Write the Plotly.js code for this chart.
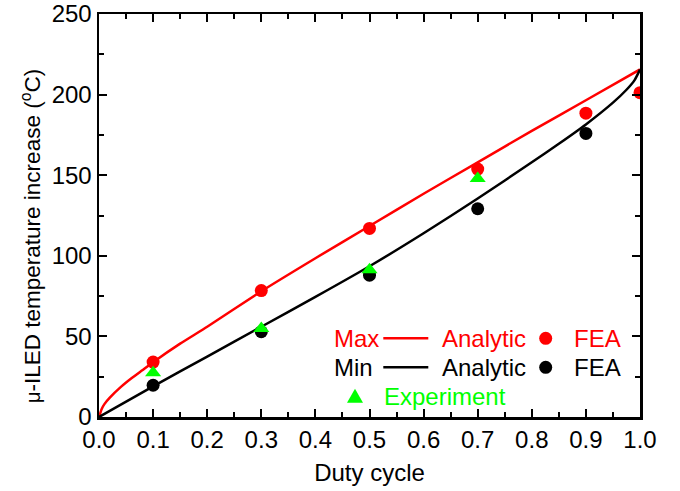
<!DOCTYPE html>
<html>
<head>
<meta charset="utf-8">
<script src="https://cdn.plot.ly/plotly-3.0.1.min.js"></script>
<style>html,body{margin:0;padding:0;background:#fff;}#chart{width:680px;height:491px;}</style>
</head>
<body>
<div id="chart"></div>
<script>
// Analytic curves
var maxAnalyticX = [0, 0.005, 0.01, 0.02, 0.04, 0.06, 0.08, 0.1, 0.15, 0.2, 0.3, 0.4, 0.5, 0.6, 0.7, 0.8, 0.9, 1.0];
var maxAnalyticY = [0, 5, 8, 12, 18.5, 24, 29, 34, 45.5, 56, 78, 98.5, 118.5, 138.5, 158, 177.5, 196.5, 215.6];
var minAnalyticX = [0, 0.1, 0.2, 0.3, 0.4, 0.5, 0.6, 0.7, 0.8, 0.85, 0.9, 0.95, 0.975, 0.99, 1.0];
var minAnalyticY = [0, 19, 37.5, 56, 74.5, 93.5, 114, 135.5, 158, 169.5, 181.5, 195, 203, 209, 215.5];
// FEA points
var maxFEAX = [0.1, 0.3, 0.5, 0.7, 0.9, 1.0];
var maxFEAY = [34.1, 78.4, 117, 153.8, 188.5, 201.2];
var minFEAX = [0.1, 0.3, 0.5, 0.7, 0.9];
var minFEAY = [19.7, 52.9, 88, 129.2, 175.9];
// Experiment
var expX = [0.1, 0.3, 0.5, 0.7];
var expY = [27.5, 54.9, 91.3, 148];
// Ticks
var xTicks = [0, 0.1, 0.2, 0.3, 0.4, 0.5, 0.6, 0.7, 0.8, 0.9, 1.0];
var xTickText = ['0.0','0.1','0.2','0.3','0.4','0.5','0.6','0.7','0.8','0.9','1.0'];
var yTicks = [0, 50, 100, 150, 200, 250];

var RED = '#ff0000', BLACK = '#000000', GREEN = '#00ff00';
var FONT = 'Arial, "Liberation Sans", sans-serif';

var traces = [
  {x: maxAnalyticX, y: maxAnalyticY, mode: 'lines', line: {color: RED, width: 2.5, shape: 'spline', smoothing: 0.5}, showlegend: false},
  {x: minAnalyticX, y: minAnalyticY, mode: 'lines', line: {color: BLACK, width: 2.5, shape: 'spline', smoothing: 0.5}, showlegend: false},
  {x: maxFEAX, y: maxFEAY, mode: 'markers', marker: {color: RED, size: 13, symbol: 'circle'}, showlegend: false},
  {x: minFEAX, y: minFEAY, mode: 'markers', marker: {color: BLACK, size: 13, symbol: 'circle'}, showlegend: false},
  {x: expX, y: expY, mode: 'markers', marker: {color: GREEN, size: 14, symbol: 'triangle-up'}, showlegend: false}
];

function px2x(p){ return (p - 99) / 541; }
function py2y(p){ return (417 - p) / 403; }

var r1 = py2y(338.3), r2 = py2y(367.3), r3 = py2y(396.7);
var annFont = function(c){ return {family: FONT, size: 24, color: c}; };
var annotations = [
  {xref:'paper', yref:'paper', x: px2x(332), y: r1, xanchor:'left', yanchor:'middle', text:'Max', showarrow:false, font: annFont(RED)},
  {xref:'paper', yref:'paper', x: px2x(440), y: r1, xanchor:'left', yanchor:'middle', text:'Analytic', showarrow:false, font: annFont(RED)},
  {xref:'paper', yref:'paper', x: px2x(572), y: r1, xanchor:'left', yanchor:'middle', text:'FEA', showarrow:false, font: annFont(RED)},
  {xref:'paper', yref:'paper', x: px2x(332), y: r2, xanchor:'left', yanchor:'middle', text:'Min', showarrow:false, font: annFont(BLACK)},
  {xref:'paper', yref:'paper', x: px2x(440), y: r2, xanchor:'left', yanchor:'middle', text:'Analytic', showarrow:false, font: annFont(BLACK)},
  {xref:'paper', yref:'paper', x: px2x(572), y: r2, xanchor:'left', yanchor:'middle', text:'FEA', showarrow:false, font: annFont(BLACK)},
  {xref:'paper', yref:'paper', x: px2x(382), y: r3, xanchor:'left', yanchor:'middle', text:'Experiment', showarrow:false, font: annFont(GREEN)},
  // y-axis title
  {xref:'paper', yref:'paper', x: px2x(31), y: py2y(236), xanchor:'center', yanchor:'middle', textangle: -90, showarrow:false,
   text: '<span style="font-size:20px">μ</span>-ILED temperature increase (<sup>o</sup>C)', font: {family: FONT, size: 22.5, color: '#000'}}
];

var shapes = [
  {type:'line', xref:'paper', yref:'paper', x0: px2x(383.3), x1: px2x(428.3), y0: r1, y1: r1, line:{color:RED, width:2.5}},
  {type:'line', xref:'paper', yref:'paper', x0: px2x(383.3), x1: px2x(428.3), y0: r2, y1: r2, line:{color:BLACK, width:2.5}},
  {type:'circle', xref:'paper', yref:'paper', xsizemode:'pixel', ysizemode:'pixel', xanchor: px2x(545.7), yanchor: r1, x0:-6.5, x1:6.5, y0:-6.5, y1:6.5, fillcolor:RED, line:{width:0}},
  {type:'circle', xref:'paper', yref:'paper', xsizemode:'pixel', ysizemode:'pixel', xanchor: px2x(545.7), yanchor: r2, x0:-6.5, x1:6.5, y0:-6.5, y1:6.5, fillcolor:BLACK, line:{width:0}},
  {type:'path', xref:'paper', yref:'paper', xsizemode:'pixel', ysizemode:'pixel', xanchor: px2x(355), yanchor: r3, path:'M-8,-6 L8,-6 L0,8 Z', fillcolor:GREEN, line:{width:0}}
];

var layout = {
  width: 680, height: 491,
  margin: {l: 99, r: 40, t: 14, b: 74},
  paper_bgcolor: '#fff', plot_bgcolor: '#fff',
  font: {family: FONT, size: 24, color: '#000'},
  showlegend: false,
  xaxis: {
    range: [0, 1], tickvals: xTicks, ticktext: xTickText,
    ticks: 'inside', ticklen: 8, tickwidth: 2, tickcolor: '#000',
    minor: {ticks: 'inside', dtick: 0.05, ticklen: 5, tickwidth: 2, tickcolor: '#000'},
    showline: true, linewidth: 2.5, linecolor: '#000', mirror: 'ticks',
    showgrid: false, zeroline: false,
    tickfont: {family: FONT, size: 24, color: '#000'},
    title: {text: 'Duty cycle', font: {family: FONT, size: 24, color: '#000'}, standoff: 12}
  },
  yaxis: {
    range: [0, 250], tickvals: yTicks,
    ticks: 'inside', ticklen: 8, tickwidth: 2, tickcolor: '#000',
    minor: {ticks: 'inside', dtick: 25, ticklen: 5, tickwidth: 2, tickcolor: '#000'},
    showline: true, linewidth: 2.5, linecolor: '#000', mirror: 'ticks',
    showgrid: false, zeroline: false,
    tickfont: {family: FONT, size: 24, color: '#000'}
  },
  annotations: annotations,
  shapes: shapes
};

Plotly.newPlot('chart', traces, layout, {displayModeBar: false, staticPlot: true});
</script>
</body>
</html>
